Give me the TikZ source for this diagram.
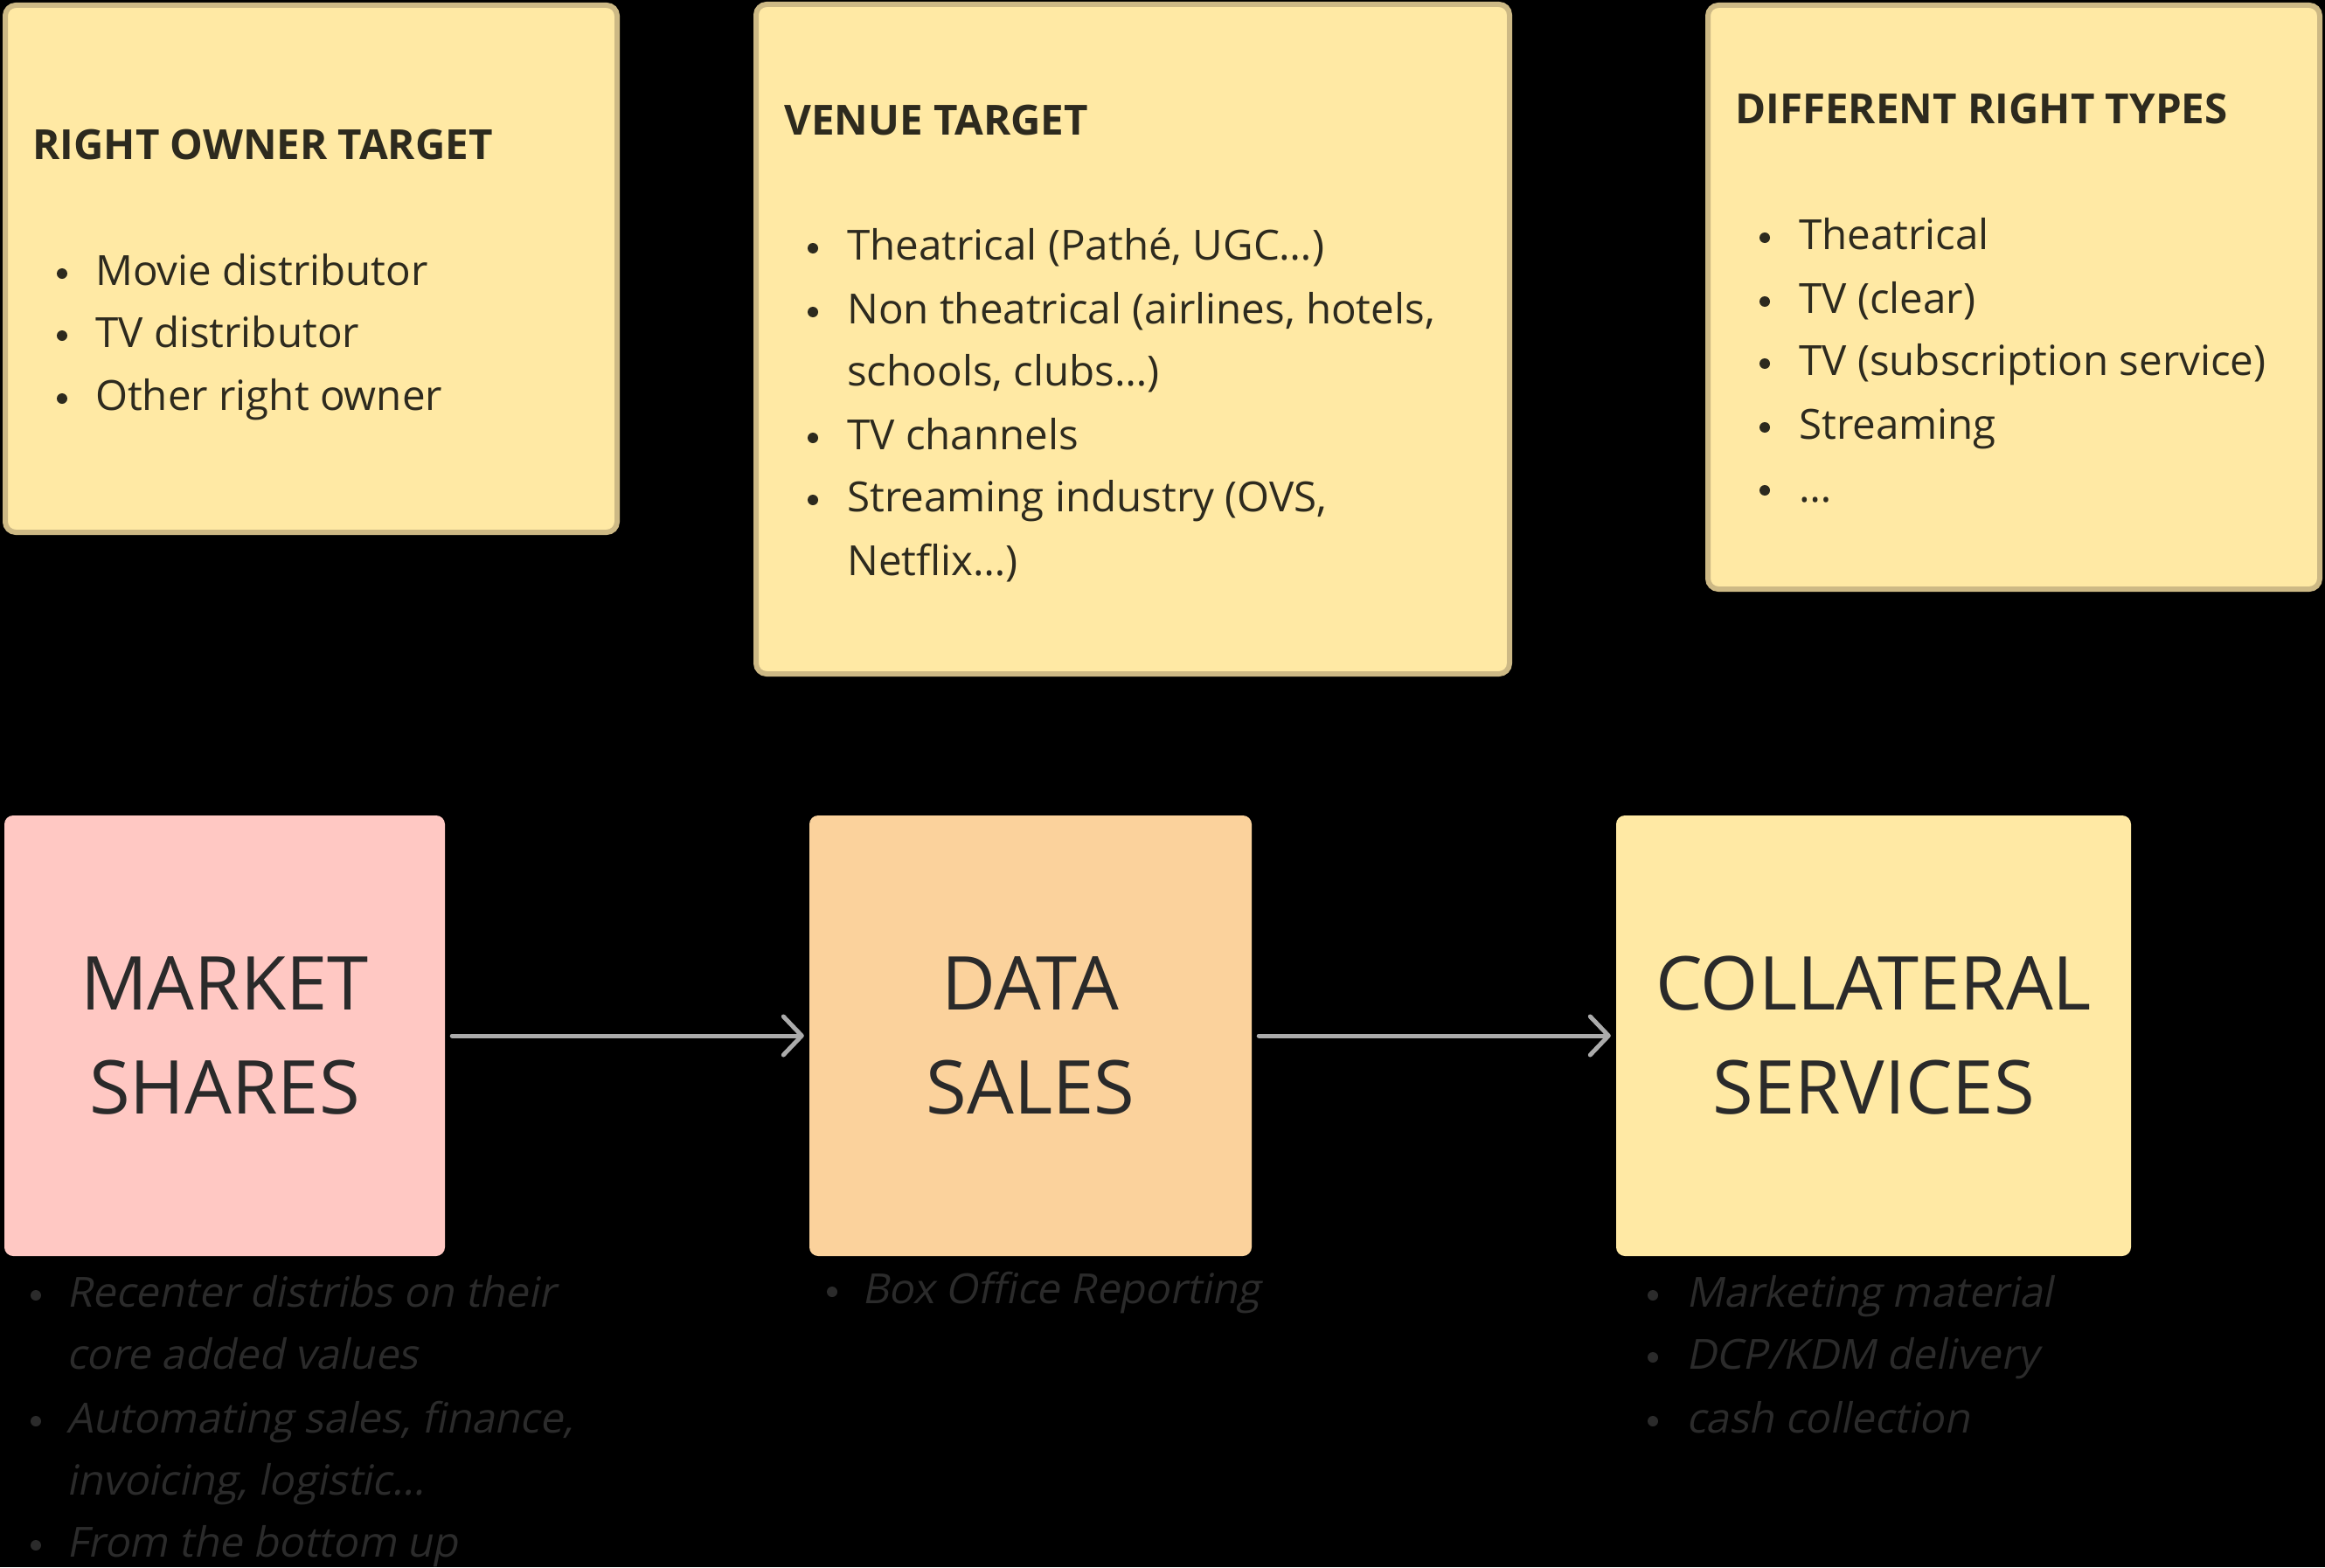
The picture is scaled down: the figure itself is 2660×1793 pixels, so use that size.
\documentclass[tikz,border=0pt]{standalone}
\usepackage{fontspec}
\setmainfont{Open Sans}
\newfontfamily\slantfont[FakeSlant=0.2]{Open Sans}
\usetikzlibrary{arrows.meta}
\definecolor{stickyfill}{HTML}{FFE9A4}
\definecolor{stickyborder}{HTML}{CDB985}
\definecolor{pinkfill}{HTML}{FFC8C3}
\definecolor{orangefill}{HTML}{FBD29C}
\definecolor{ink}{HTML}{2D2A1E}
\definecolor{bigink}{HTML}{2A2A2A}
\definecolor{notegray}{HTML}{2B2B2B}
\definecolor{arrowgray}{HTML}{ABABAB}
\tikzset{
  sticky/.style={draw=stickyborder, line width=6pt, fill=stickyfill, rounded corners=12pt, inner sep=0pt},
  block/.style={rounded corners=10pt, inner sep=0pt, align=center, text=bigink, font=\fontsize{85}{119}\selectfont},
  ttl/.style={anchor=base west, inner sep=0pt, text=ink, font=\bfseries\fontsize{47.5}{56}\selectfont},
  itm/.style={anchor=base west, inner sep=0pt, text=ink, font=\fontsize{47.5}{56}\selectfont},
  note/.style={anchor=base west, inner sep=0pt, text=notegray, font=\slantfont\fontsize{47.5}{56}\selectfont},
  inkdot/.style={fill=ink},
  notedot/.style={fill=notegray},
  flow/.style={draw=arrowgray, line width=5pt, line cap=round, shorten <=8pt, shorten >=6pt, -{Straight Barb[length=21pt,width=44pt,round]}}
}
\newcommand{\bulat}[3]{\fill[#1] ([yshift=13pt]#2,#3) circle (6pt);}
\begin{document}
\begin{tikzpicture}[x=1pt,y=-1pt]
\fill[black] (0,0) rectangle (2660,1793);
\useasboundingbox (0,0) rectangle (2660,1793);

% top sticky notes
\node[sticky, minimum width=700pt, minimum height=603pt] (rot) at (356,307.5) {};
\node[sticky, minimum width=862pt, minimum height=766pt] (vt) at (1296,388) {};
\node[sticky, minimum width=700pt, minimum height=668pt] (drt) at (2304,340) {};

% Right owner target
\node[ttl] (rott) at (37,182) {RIGHT OWNER TARGET};
\node[itm] (rot1) at (109,326) {Movie distributor};
\node[itm] (rot2) at (109,397) {TV distributor};
\node[itm] (rot3) at (109,469) {Other right owner};
\bulat{inkdot}{71}{326}
\bulat{inkdot}{71}{397}
\bulat{inkdot}{71}{469}

% Venue target
\node[ttl] (vtt) at (897,154) {VENUE TARGET};
\node[itm] (vt1) at (969,297) {Theatrical (Pathé, UGC…)};
\node[itm] (vt2) at (969,370) {Non theatrical (airlines, hotels,};
\node[itm] (vt2b) at (969,441) {schools, clubs…)};
\node[itm] (vt3) at (969,514) {TV channels};
\node[itm] (vt4) at (969,585) {Streaming industry (OVS,};
\node[itm] (vt4b) at (969,658) {Netflix…)};
\bulat{inkdot}{930}{297}
\bulat{inkdot}{930}{370}
\bulat{inkdot}{930}{514}
\bulat{inkdot}{930}{585}

% Different right types
\node[ttl] (drtt) at (1985,141) {DIFFERENT RIGHT TYPES};
\node[itm] (drt1) at (2058,285) {Theatrical};
\node[itm] (drt2) at (2058,358) {TV (clear)};
\node[itm] (drt3) at (2058,429) {TV (subscription service)};
\node[itm] (drt4) at (2058,502) {Streaming};
\node[itm] (drt5) at (2058,574) {…};
\bulat{inkdot}{2019}{285}
\bulat{inkdot}{2019}{358}
\bulat{inkdot}{2019}{429}
\bulat{inkdot}{2019}{502}
\bulat{inkdot}{2019}{574}

% bottom blocks
\node[block, fill=pinkfill, minimum width=504pt, minimum height=504pt] (ms) at (257,1185) {MARKET\\SHARES};
\node[block, fill=orangefill, minimum width=506pt, minimum height=504pt] (ds) at (1179,1185) {DATA\\SALES};
\node[block, fill=stickyfill, minimum width=589pt, minimum height=504pt] (cs) at (2143.5,1185) {COLLATERAL\\SERVICES};

\draw[flow] (ms.east) -- (ds.west);
\draw[flow] (ds.east) -- (cs.west);

% notes below
\node[note] (ms1) at (76,1495) {Recenter distribs on their};
\node[note] (ms1b) at (76,1566) {core added values};
\node[note] (ms2) at (76,1639) {Automating sales, finance,};
\node[note] (ms2b) at (76,1710) {invoicing, logistic…};
\node[note] (ms3) at (76,1781) {From the bottom up};
\bulat{notedot}{41}{1495}
\bulat{notedot}{41}{1639}
\bulat{notedot}{41}{1781}

\node[note] (ds1) at (986,1491) {Box Office Reporting};
\bulat{notedot}{952}{1491}

\node[note] (cs1) at (1929,1495) {Marketing material};
\node[note] (cs2) at (1929,1566) {DCP/KDM delivery};
\node[note] (cs3) at (1929,1639) {cash collection};
\bulat{notedot}{1891}{1495}
\bulat{notedot}{1891}{1566}
\bulat{notedot}{1891}{1639}
\end{tikzpicture}
\end{document}
